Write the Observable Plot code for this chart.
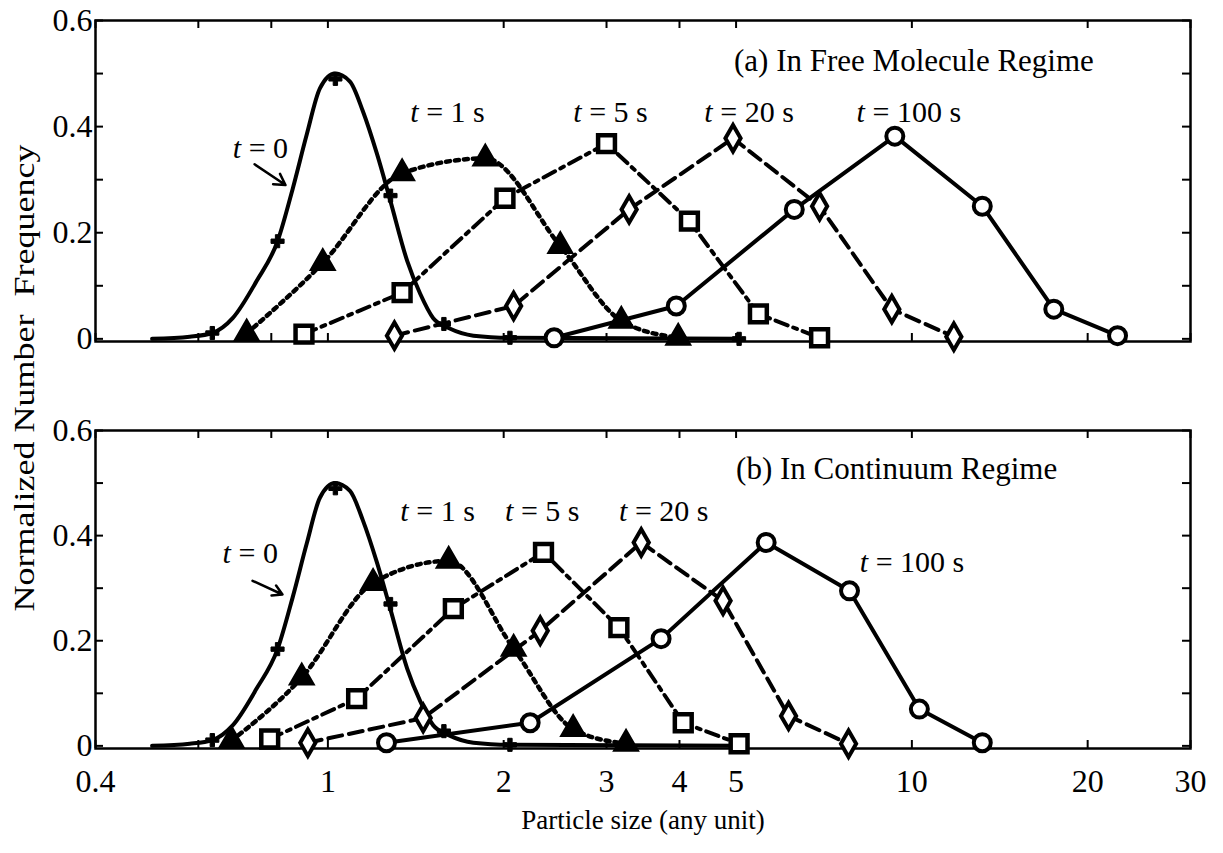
<!DOCTYPE html>
<html><head><meta charset="utf-8">
<script src="https://cdn.jsdelivr.net/npm/d3@7"></script>
<script src="https://cdn.jsdelivr.net/npm/@observablehq/plot@0.6"></script>
<style>
body{margin:0;background:#fff;}
#wrap{position:relative;width:1223px;height:853px;font-family:"Liberation Serif","Times New Roman",serif;background:#fff;}
#wrap svg{display:block;}
#ylab{position:absolute;left:24px;top:378px;transform:translate(-50%,-50%) rotate(-90deg) scaleX(1.2);white-space:pre;font-size:30px;color:#000;}
</style></head><body><div id="wrap"></div>
<script>
// ---- axis ticks ----
const xTicks = [0.4, 0.6, 0.8, 1, 2, 3, 4, 5, 10, 20, 30];
const xTickLabels = [0.4, 0.6, 1, 2, 3, 4, 5, 10, 20, 30];
const yTicks = [0, 0.1, 0.2, 0.3, 0.4, 0.5, 0.6];
const yTickLabels = [0, 0.2, 0.4, 0.6];

// ---- t = 0 initial distribution (same in both panels) ----
const t0CurveX = [0.5, 0.58, 0.634, 0.687, 0.755, 0.82, 0.871, 0.92, 0.969, 1.028, 1.091, 1.148, 1.214, 1.278, 1.367, 1.439, 1.515, 1.62, 1.775, 2.05, 5.06];
const t0CurveY = [0, 0.004, 0.011, 0.039, 0.109, 0.184, 0.284, 0.385, 0.472, 0.5, 0.485, 0.429, 0.348, 0.262, 0.147, 0.085, 0.039, 0.019, 0.006, 0.002, 0];
const t0MarkX = [0.634, 0.82, 1.03, 1.28, 1.58, 2.05, 5.06];
const t0MarkY = [0.011, 0.184, 0.49, 0.27, 0.028, 0.002, 0];

// ---- (a) free molecule regime ----
const a_t1X = [0.726, 0.98, 1.34, 1.86, 2.5, 3.18, 3.98];
const a_t1Y = [0.01, 0.143, 0.312, 0.34, 0.175, 0.034, 0.002];
const a_t5X = [0.91, 1.34, 2.01, 3.0, 4.16, 5.46, 6.95];
const a_t5Y = [0.009, 0.087, 0.265, 0.368, 0.222, 0.047, 0.002];
const a_t20X = [1.3, 2.08, 3.28, 4.94, 6.95, 9.24, 11.8];
const a_t20Y = [0.006, 0.062, 0.244, 0.378, 0.25, 0.056, 0.004];
const a_t100X = [2.44, 3.95, 6.29, 9.35, 13.2, 17.5, 22.5];
const a_t100Y = [0.002, 0.062, 0.244, 0.382, 0.25, 0.056, 0.006];

// ---- (b) continuum regime ----
const b_t1X = [0.684, 0.902, 1.195, 1.61, 2.08, 2.63, 3.24];
const b_t1Y = [0.01, 0.13, 0.31, 0.352, 0.185, 0.032, 0.004];
const b_t5X = [0.795, 1.12, 1.64, 2.34, 3.15, 4.06, 5.06];
const b_t5Y = [0.013, 0.09, 0.261, 0.368, 0.225, 0.044, 0.004];
const b_t20X = [0.924, 1.456, 2.31, 3.44, 4.75, 6.15, 7.79];
const b_t20Y = [0.006, 0.053, 0.219, 0.387, 0.276, 0.057, 0.004];
const b_t100X = [1.26, 2.22, 3.72, 5.63, 7.82, 10.3, 13.2];
const b_t100Y = [0.006, 0.044, 0.204, 0.387, 0.295, 0.07, 0.006];

// ---- annotations ----
const a_title = "(a) In Free Molecule Regime";
const b_title = "(b) In Continuum Regime";
const timeNames = ["= 0", "= 1 s", "= 5 s", "= 20 s", "= 100 s"];
const a_labelX = [0.687, 1.383, 2.63, 4.41, 8.04];
const a_labelY = [0.359, 0.427, 0.427, 0.427, 0.427];
const b_labelX = [0.66, 1.33, 2.01, 3.15, 8.14];
const b_labelY = [0.366, 0.447, 0.447, 0.447, 0.349];
const a_arrow = {x1: 0.749, y1: 0.329, x2: 0.846, y2: 0.29};
const b_arrow = {x1: 0.743, y1: 0.314, x2: 0.836, y2: 0.288};
const a_titlePos = {x: 4.96, y: 0.523};
const b_titlePos = {x: 5.0, y: 0.526};
const xLabel = "Particle size (any unit)";
const yLabel = "Normalized Number  Frequency";

const rows = (xs, ys) => xs.map((x, i) => ({x, y: ys[i]}));
const FONT = "Liberation Serif";

function panel(o) {
  const W = 1223, ml = 95, mr = 33;
  const fw = W - ml - mr;
  const fh = o.height - o.marginTop - o.marginBottom;
  const t0 = rows(t0CurveX, t0CurveY);
  const t0m = rows(t0MarkX, t0MarkY);
  const s1 = rows(o.t1[0], o.t1[1]);
  const s5 = rows(o.t5[0], o.t5[1]);
  const s20 = rows(o.t20[0], o.t20[1]);
  const s100 = rows(o.t100[0], o.t100[1]);
  const labels = o.labelX.map((x, i) => ({x, y: o.labelY[i], rest: timeNames[i]}));
  const lw = 4;
  const marks = [
    Plot.frame({stroke: "black", strokeWidth: 2.5}),
    Plot.tickX(xTicks, {x: d => d, insetTop: fh - 8, strokeWidth: 2}),
    Plot.tickX(xTicks, {x: d => d, insetBottom: fh - 8, strokeWidth: 2}),
    Plot.tickY(yTicks, {y: d => d, insetRight: fw - 8, strokeWidth: 2}),
    Plot.tickY(yTicks, {y: d => d, insetLeft: fw - 8, strokeWidth: 2}),
    Plot.axisY({ticks: yTickLabels, tickSize: 0, tickPadding: 3, fontSize: 32, label: null, tickFormat: d => String(d)}),
    Plot.line(t0, {x: "x", y: "y", stroke: "black", strokeWidth: lw, curve: "monotone-x"}),
    Plot.line(s1, {x: "x", y: "y", stroke: "black", strokeWidth: 4.5, strokeDasharray: "4,5", curve: "monotone-x"}),
    Plot.line(s5, {x: "x", y: "y", stroke: "black", strokeWidth: lw, strokeDasharray: "13,6,4,6"}),
    Plot.line(s20, {x: "x", y: "y", stroke: "black", strokeWidth: lw, strokeDasharray: "14,7"}),
    Plot.line(s100, {x: "x", y: "y", stroke: "black", strokeWidth: lw}),
    Plot.dot(t0m, {x: "x", y: "y", symbol: "cross", r: 5.5, fill: "black", stroke: "black", strokeWidth: 1}),
    Plot.dot(s1, {x: "x", y: "y", symbol: "triangle", r: 9, fill: "black", stroke: "black", strokeWidth: 2}),
    Plot.dot(s5, {x: "x", y: "y", symbol: "square", r: 9.5, fill: "white", stroke: "black", strokeWidth: 4.5}),
    Plot.dot(s20, {x: "x", y: "y", symbol: "diamond", r: 8, fill: "white", stroke: "black", strokeWidth: 4}),
    Plot.dot(s100, {x: "x", y: "y", symbol: "circle", r: 8.5, fill: "white", stroke: "black", strokeWidth: 4}),
    Plot.text(labels, {x: "x", y: "y", text: () => "t", fontStyle: "italic", textAnchor: "start", fontSize: 30, fill: "black"}),
    Plot.text(labels, {x: "x", y: "y", text: "rest", textAnchor: "start", dx: 16, fontSize: 30, fill: "black"}),
    Plot.text([o.title], {x: () => o.titlePos.x, y: () => o.titlePos.y, text: d => d, textAnchor: "start", fontSize: 31, fill: "black"}),
    Plot.arrow([o.arrow], {x1: "x1", y1: "y1", x2: "x2", y2: "y2", stroke: "black", strokeWidth: 2.5, headLength: 14})
  ];
  if (o.showX) {
    marks.push(Plot.axisX({ticks: xTickLabels, tickSize: 0, tickPadding: 21, fontSize: 32, label: null, tickFormat: d => String(d)}));
    marks.push(Plot.text([xLabel], {frameAnchor: "bottom", dy: 80, text: d => d, fontSize: 27, fill: "black"}));
  }
  return Plot.plot({
    width: W, height: o.height,
    marginLeft: ml, marginRight: mr, marginTop: o.marginTop, marginBottom: o.marginBottom,
    style: {fontFamily: FONT, fontSize: "32px", color: "black", background: "white", overflow: "visible"},
    x: {type: "log", domain: [0.4, 30], axis: o.showX ? undefined : null},
    y: {domain: [-0.005, 0.6]},
    marks
  });
}

const wrap = document.getElementById("wrap");
wrap.appendChild(panel({height: 365, marginTop: 20, marginBottom: 24, showX: false,
  t1: [a_t1X, a_t1Y], t5: [a_t5X, a_t5Y], t20: [a_t20X, a_t20Y], t100: [a_t100X, a_t100Y],
  labelX: a_labelX, labelY: a_labelY, arrow: a_arrow, title: a_title, titlePos: a_titlePos}));
wrap.appendChild(panel({height: 488, marginTop: 65, marginBottom: 105, showX: true,
  t1: [b_t1X, b_t1Y], t5: [b_t5X, b_t5Y], t20: [b_t20X, b_t20Y], t100: [b_t100X, b_t100Y],
  labelX: b_labelX, labelY: b_labelY, arrow: b_arrow, title: b_title, titlePos: b_titlePos}));
const yl = document.createElement("div");
yl.id = "ylab";
yl.textContent = yLabel;
wrap.appendChild(yl);
</script></body></html>
